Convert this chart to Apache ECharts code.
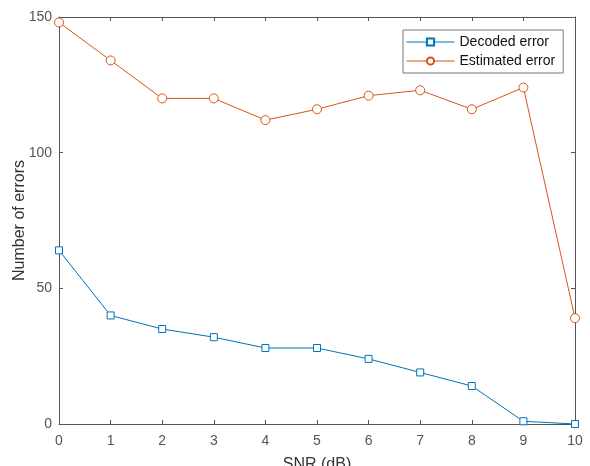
<!DOCTYPE html>
<html><head><meta charset="utf-8">
<script src="https://cdn.jsdelivr.net/npm/echarts@6/dist/echarts.min.js"></script>
<style>html,body{margin:0;padding:0;background:#fff}#c{width:590px;height:466px}</style>
</head><body><div id="c"></div>
<script>
const snr = [0,1,2,3,4,5,6,7,8,9,10];
const decoded = [64,40,35,32,28,28,24,19,14,1,0];
const estimated = [148,134,120,120,112,116,121,123,116,124,39];
const seriesNames = ['Decoded error','Estimated error'];
const xTicks = [0,1,2,3,4,5,6,7,8,9,10];
const yTicks = [0,50,100,150];

const blue = '#0072BD', orange = '#D95319';
const axisCol = '#555';
const font = 'Liberation Sans, Arial, sans-serif';
const chart = echarts.init(document.getElementById('c'));
const axCommon = {
  type:'value',
  axisLine:{show:true,onZero:false,lineStyle:{color:axisCol,width:1}},
  axisTick:{show:true,inside:true,length:4,lineStyle:{color:axisCol}},
  splitLine:{show:false},
};
chart.setOption({
  animation:false,
  grid:{left:59,right:15,top:17,bottom:42,containLabel:false,outerBoundsMode:'none'},
  legend:{
    data:seriesNames, orient:'vertical', left:403, top:30,
    itemWidth:48, itemHeight:9, itemGap:3,
    lineStyle:{width:1},
    borderColor:'#777', borderWidth:1, padding:[4,8,4,3],
    textStyle:{fontFamily:font,fontSize:14,lineHeight:16,color:'#111'}
  },
  xAxis:[
    Object.assign({},axCommon,{min:0,max:10,interval:1,position:'bottom',
      name:'SNR (dB)',nameLocation:'middle',nameGap:33,nameMoveOverlap:false,
      nameTextStyle:{fontFamily:font,fontSize:16,color:'#333'},
      axisLabel:{fontFamily:font,fontSize:14,color:axisCol,margin:10,
        formatter:v=>xTicks.includes(v)?String(v):''}}),
    Object.assign({},axCommon,{min:0,max:10,interval:1,position:'top',axisLabel:{show:false}})
  ],
  yAxis:[
    Object.assign({},axCommon,{min:0,max:150,interval:50,position:'left',
      name:'Number of errors',nameLocation:'middle',nameGap:31,nameMoveOverlap:false,
      nameTextStyle:{fontFamily:font,fontSize:16,color:'#333'},
      axisLabel:{fontFamily:font,fontSize:14,color:axisCol,margin:7,
        formatter:v=>yTicks.includes(v)?String(v):''}}),
    Object.assign({},axCommon,{min:0,max:150,interval:50,position:'right',axisLabel:{show:false}})
  ],
  series:[
    {name:seriesNames[0],type:'line',data:snr.map((x,i)=>[x,decoded[i]]),
     symbol:'rect',symbolSize:7,
     lineStyle:{color:blue,width:1},
     itemStyle:{color:'#fff',borderColor:blue,borderWidth:1}},
    {name:seriesNames[1],type:'line',data:snr.map((x,i)=>[x,estimated[i]]),
     symbol:'circle',symbolSize:9,
     lineStyle:{color:orange,width:1},
     itemStyle:{color:'#fff',borderColor:orange,borderWidth:1}}
  ]
});
</script></body></html>
